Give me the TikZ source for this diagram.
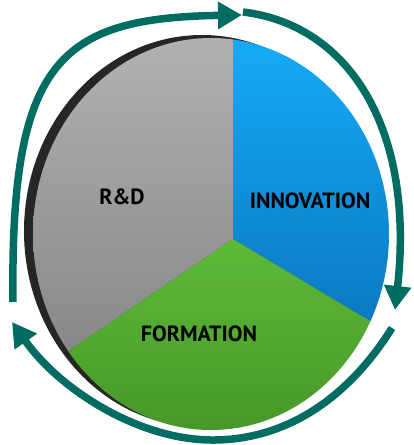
\documentclass[tikz,border=0pt]{standalone}
\usepackage{fontspec}
\setmainfont{PT Sans}
\usetikzlibrary{arrows.meta}

\definecolor{cycleteal}{RGB}{0,108,98}
\definecolor{rdtop}{RGB}{178,178,178}
\definecolor{rdbottom}{RGB}{132,132,132}
\definecolor{innotop}{RGB}{22,172,248}
\definecolor{innobottom}{RGB}{10,118,190}
\definecolor{formtop}{RGB}{94,186,56}
\definecolor{formbottom}{RGB}{70,150,40}

\begin{document}
\begin{tikzpicture}[x=1pt, y=-1pt,
  cycle/.style={line width=7.5pt, draw=cycleteal,
    -{Triangle[length=24pt, width=26pt]}},
  slicetext/.style={font=\bfseries\fontsize{22}{22}\selectfont, text=black}]
  \useasboundingbox (0,0) rectangle (414,445);
  % shadow behind the pie
  \fill[black!85] (202,231) ellipse [x radius=178, y radius=196];
  % slices
  \coordinate (c) at (233,239);
  \begin{scope}
    \clip (211,234) ellipse [x radius=178, y radius=196];
    \shade[top color=rdtop, bottom color=rdbottom]
      (c) -- (233,30) -- (20,30) -- (20,384) -- cycle;
    \shade[top color=innotop, bottom color=innobottom]
      (c) -- (233,30) -- (400,30) -- (400,339) -- cycle;
    \shade[top color=formtop, bottom color=formbottom]
      (c) -- (20,384) -- (20,440) -- (400,440) -- (400,339) -- cycle;
  \end{scope}
  \node [slicetext] (rd) at (122,197) {R\&D};
  \node [slicetext] (inno) at (310,201) {INNOVATION};
  \node [slicetext] (form) at (199,334) {FORMATION};
  % cycle arrows
  \coordinate (a1) at (13,302);
  \coordinate (b1) at (242,15);
  \coordinate (a2) at (243,12);
  \coordinate (b2) at (395,310);
  \coordinate (a3) at (392,328);
  \coordinate (m3) at (215,440);
  \coordinate (b3) at (12,322);
  \draw [cycle] (a1) .. controls (10,60) and (60,18) .. (b1);
  \draw [cycle] (a2) .. controls (350,25) and (415,130) .. (b2);
  \draw [cycle] (a3) .. controls (350,395) and (290,439) .. (m3)
    .. controls (140,441) and (60,390) .. (b3);
\end{tikzpicture}
\end{document}
